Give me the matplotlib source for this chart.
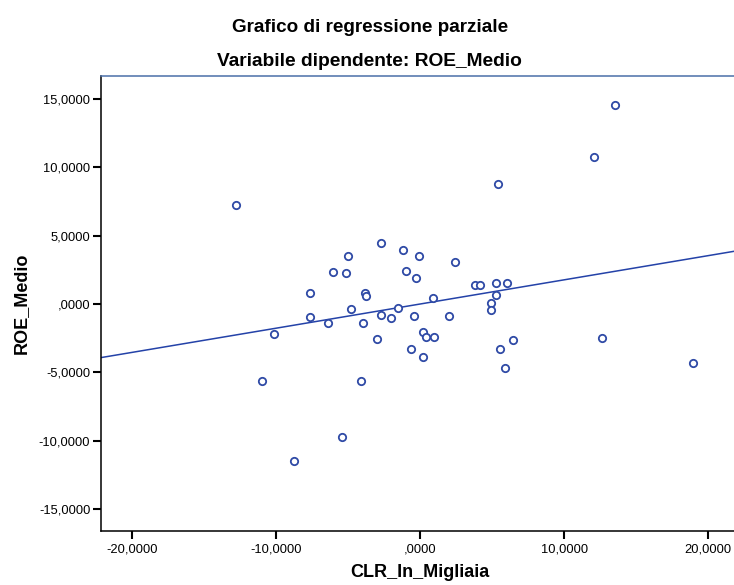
import matplotlib.pyplot as plt
import numpy as np
from matplotlib.ticker import FuncFormatter

plt.rcParams['font.family'] = ['Liberation Sans', 'DejaVu Sans']

# partial residuals: CLR_In_Migliaia (x) vs ROE_Medio (y)
x_res = [-12770, -5000, -6090, -5190, -7690, -4840, -7690, -6390, -4000, -10170,
         -10990, -4130, -5470, -8780, -3820, -3800,
         -2750, -1200, -110, 2410, -970, -320, 3780, 4150, 5220, 6030,
         5220, 4920, 4920, 900, -2750, -2060, -1550, -420, 2020, -2990,
         210, 370, 950, -650, 210, 5520, 6400, 5910,
         13490, 12030, 5400, 12590, 18940]
y_res = [7250, 3540, 2370, 2300, 820, -360, -950, -1410, -1410, -2190,
         -5660, -5660, -9710, -11490, 810, 590,
         4490, 3980, 3540, 3070, 2440, 1880, 1420, 1420, 1510, 1510,
         640, 50, -440, 460, -810, -1000, -310, -900, -900, -2580,
         -2030, -2390, -2420, -3290, -3880, -3320, -2640, -4660,
         14570, 10740, 8780, -2510, -4300]
slope = 0.177

x_ticks = [-20000, -10000, 0, 10000, 20000]
y_ticks = [-15000, -10000, -5000, 0, 5000, 10000, 15000]


def spss_fmt(v, pos):
    s = f"{v / 1000:.4f}".replace('.', ',')
    if s.startswith('0,'):
        s = s[1:]
    elif s.startswith('-0,'):
        s = s[2:]
    return s


fig = plt.figure(figsize=(7.34, 5.85), dpi=100)
ax = fig.add_axes([0.1372, 0.0923, 0.871, 0.7778])

xmin, xmax = -22200, 22200
ax.set_xlim(xmin, xmax)
ax.set_ylim(-16620, 16690)

xl = np.array([xmin, xmax])
ax.plot(xl, slope * xl, color='#2442a8', lw=1.1, zorder=2)
ax.scatter(x_res, y_res, s=28, facecolors='white', edgecolors='#2f4aa6',
           linewidths=1.3, zorder=3)

ax.set_xticks(x_ticks)
ax.set_yticks(y_ticks)
ax.xaxis.set_major_formatter(FuncFormatter(spss_fmt))
ax.yaxis.set_major_formatter(FuncFormatter(spss_fmt))
ax.tick_params(direction='out', length=6, width=1.5, labelsize=9.3,
               colors='black')
ax.tick_params(axis='y', pad=1.5)
ax.tick_params(axis='x', pad=3)
for sp in ax.spines.values():
    sp.set_linewidth(1.1)
ax.spines['top'].set_color('#4a6fa8')

ax.set_xlabel('CLR_In_Migliaia', fontsize=13, fontweight='bold', labelpad=6)
fig.text(21 / 734, 1 - 303.5 / 585, 'ROE_Medio', fontsize=13,
         fontweight='bold', rotation=90, ha='center', va='center')

fig.text(0.504, 1 - 27 / 585, 'Grafico di regressione parziale',
         fontsize=13.6, fontweight='bold', ha='center', va='center')
fig.text(0.504, 1 - 62 / 585, 'Variabile dipendente: ROE_Medio',
         fontsize=13.8, fontweight='bold', ha='center', va='center')

fig.savefig('out.png', dpi=100)
